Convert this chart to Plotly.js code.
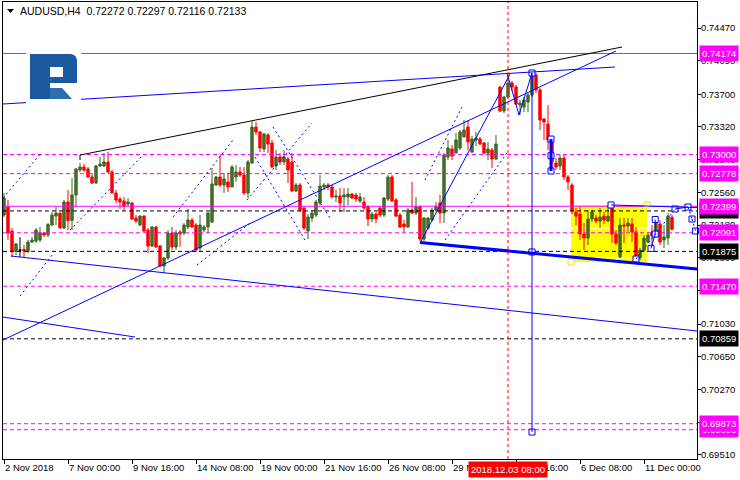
<!DOCTYPE html>
<html><head><meta charset="utf-8">
<script src="https://cdn.plot.ly/plotly-3.0.1.min.js"></script>
<style>html,body{margin:0;padding:0;background:#fff}#chart{width:740px;height:480px}</style>
</head><body><div id="chart"></div>
<script>
// ---------- DATA ----------
const symbolTitle = 'AUDUSD,H4';
const lastQuote = ['0.72272', '0.72297', '0.72116', '0.72133'];

const open = [
0.72297,0.72391,0.72111,0.71874,0.71891,0.71897,0.71874,0.71984,0.71995,0.72007,
0.72088,0.72065,0.72181,0.72285,0.72320,0.72146,0.72449,0.72233,0.72530,0.72820,
0.72855,0.72832,0.72739,0.72669,0.72867,0.72867,0.72913,0.72797,0.72553,0.72483,
0.72460,0.72425,0.72437,0.72262,0.72181,0.72285,0.72123,0.71937,0.72158,0.71937,
0.71705,0.71798,0.72088,0.71926,0.72100,0.72088,0.72158,0.72239,0.72181,0.71914,
0.72123,0.72158,0.72216,0.72646,0.72739,0.72646,0.72681,0.72623,0.72739,0.72797,
0.72762,0.72553,0.72901,0.73319,0.73262,0.73064,0.73227,0.73134,0.72867,0.72971,
0.72913,0.72948,0.72913,0.72576,0.72646,0.72379,0.72111,0.72262,0.72297,0.72437,
0.72623,0.72646,0.72623,0.72507,0.72518,0.72507,0.72507,0.72541,0.72530,0.72460,
0.72449,0.72391,0.72251,0.72309,0.72379,0.72297,0.72483,0.72739,0.72472,0.72297,
0.72193,0.72158,0.72355,0.72320,0.72391,0.72018,0.72146,0.72239,0.72355,0.72437,
0.72320,0.72971,0.73064,0.73017,0.73076,0.73204,0.73319,0.73029,0.73169,0.73180,
0.73134,0.73017,0.73052,0.72948,0.73784,0.73506,0.73668,0.73831,0.73784,0.73575,
0.73552,0.73610,0.73691,0.73924,0.73750,0.73413,0.73354,0.73169,0.72901,0.72867,
0.72959,0.72739,0.72646,0.72332,0.72309,0.72077,0.72030,0.72251,0.72262,0.72227,
0.72285,0.72227,0.72379,0.72077,0.71810,0.72181,0.72169,0.72193,0.72100,0.71798,
0.71891,0.71984,0.72100,0.72088,0.72193,0.72007,0.72030,0.72272
];
const high = [
0.72553,0.72472,0.72146,0.71972,0.72042,0.71949,0.72007,0.72042,0.72146,0.72158,
0.72100,0.72204,0.72332,0.72391,0.72320,0.72472,0.72588,0.72727,0.72843,0.72901,
0.72890,0.72855,0.72785,0.72878,0.72971,0.73017,0.73029,0.72820,0.72588,0.72507,
0.72507,0.72495,0.72449,0.72297,0.72297,0.72297,0.72146,0.72169,0.72169,0.71949,
0.71810,0.72123,0.72158,0.72123,0.72123,0.72204,0.72367,0.72262,0.72204,0.72297,
0.72181,0.72332,0.72843,0.72750,0.72994,0.72785,0.72785,0.72878,0.72878,0.72855,
0.72855,0.72936,0.73389,0.73378,0.73273,0.73250,0.73250,0.73169,0.73052,0.73017,
0.73052,0.72971,0.73017,0.72669,0.72669,0.72391,0.72309,0.72355,0.72472,0.72762,
0.72669,0.72669,0.72646,0.72588,0.72611,0.72611,0.72611,0.72553,0.72553,0.72553,
0.72507,0.72413,0.72332,0.72332,0.72391,0.72507,0.72762,0.72762,0.72495,0.72320,
0.72239,0.72379,0.72681,0.72507,0.72413,0.72274,0.72274,0.72379,0.72449,0.72530,
0.73017,0.73169,0.73111,0.73250,0.73285,0.73401,0.73401,0.73215,0.73262,0.73204,
0.73146,0.73146,0.73076,0.73227,0.73796,0.73680,0.73924,0.73854,0.73808,0.73633,
0.73668,0.73715,0.73947,0.73947,0.73773,0.73424,0.73575,0.73180,0.72959,0.72994,
0.72994,0.72762,0.72669,0.72379,0.72391,0.72204,0.72355,0.72355,0.72297,0.72379,
0.72332,0.72413,0.72413,0.72123,0.72262,0.72262,0.72262,0.72262,0.72158,0.71914,
0.72065,0.72100,0.72181,0.72262,0.72239,0.72181,0.72320,0.72297
];
const low = [
0.72274,0.72007,0.71810,0.71833,0.71810,0.71810,0.71856,0.71972,0.71972,0.71984,
0.72042,0.72042,0.72169,0.72181,0.72146,0.72134,0.72123,0.72123,0.72391,0.72797,
0.72797,0.72739,0.72658,0.72663,0.72855,0.72855,0.72785,0.72553,0.72437,0.72367,
0.72355,0.72402,0.72239,0.72204,0.72169,0.72100,0.71856,0.71926,0.71914,0.71693,
0.71623,0.71775,0.71891,0.71891,0.71926,0.72065,0.72134,0.72146,0.71868,0.71868,
0.72100,0.72088,0.72204,0.72634,0.72623,0.72553,0.72565,0.72623,0.72681,0.72739,
0.72530,0.72495,0.72890,0.73227,0.73029,0.73029,0.73017,0.72843,0.72820,0.72878,
0.72878,0.72669,0.72565,0.72565,0.72332,0.72123,0.72018,0.72216,0.72274,0.72413,
0.72588,0.72588,0.72495,0.72449,0.72332,0.72332,0.72413,0.72483,0.72449,0.72437,
0.72355,0.72169,0.72216,0.72204,0.72274,0.72274,0.72460,0.72449,0.72274,0.72146,
0.72100,0.72146,0.72309,0.72297,0.71995,0.71995,0.72123,0.72216,0.72332,0.72204,
0.72204,0.72936,0.72936,0.73017,0.73052,0.73204,0.73052,0.73017,0.73099,0.73111,
0.73006,0.72936,0.72843,0.72936,0.73494,0.73482,0.73657,0.73738,0.73575,0.73459,
0.73494,0.73494,0.73668,0.73715,0.73285,0.73169,0.73052,0.72808,0.72820,0.72820,
0.72704,0.72588,0.72309,0.72181,0.72007,0.71891,0.71949,0.72216,0.72204,0.72146,
0.72193,0.72216,0.71972,0.71949,0.71798,0.71972,0.72100,0.71984,0.71775,0.71775,
0.71868,0.71972,0.71914,0.72030,0.71949,0.71914,0.71949,0.72116
];
const close = [
0.72495,0.72088,0.71874,0.71961,0.71891,0.71879,0.71984,0.72007,0.72123,0.72088,
0.72065,0.72187,0.72297,0.72320,0.72146,0.72449,0.72233,0.72530,0.72832,0.72855,
0.72820,0.72739,0.72669,0.72867,0.72890,0.72913,0.72797,0.72553,0.72472,0.72449,
0.72402,0.72449,0.72251,0.72227,0.72285,0.72111,0.71937,0.72158,0.71926,0.71705,
0.71798,0.72088,0.71926,0.72088,0.72077,0.72181,0.72239,0.72158,0.71891,0.72181,
0.72158,0.72320,0.72658,0.72739,0.72646,0.72716,0.72623,0.72855,0.72797,0.72762,
0.72553,0.72913,0.73319,0.73262,0.73076,0.73239,0.73122,0.72855,0.72971,0.72913,
0.72971,0.72820,0.72576,0.72646,0.72355,0.72146,0.72274,0.72320,0.72449,0.72634,
0.72646,0.72623,0.72507,0.72518,0.72437,0.72530,0.72541,0.72495,0.72483,0.72507,
0.72379,0.72251,0.72309,0.72251,0.72297,0.72495,0.72739,0.72460,0.72285,0.72158,
0.72158,0.72355,0.72320,0.72391,0.72018,0.72262,0.72262,0.72355,0.72391,0.72320,
0.72994,0.73076,0.72983,0.73169,0.73262,0.73285,0.73146,0.73180,0.73192,0.73122,
0.73017,0.73064,0.72948,0.73122,0.73506,0.73668,0.73831,0.73784,0.73587,0.73598,
0.73633,0.73691,0.73935,0.73750,0.73401,0.73378,0.73169,0.72913,0.72855,0.72959,
0.72739,0.72681,0.72344,0.72285,0.72077,0.72030,0.72251,0.72332,0.72227,0.72274,
0.72239,0.72285,0.72077,0.71972,0.72181,0.72169,0.72204,0.72100,0.71798,0.71891,
0.72030,0.72065,0.72054,0.72216,0.71984,0.72042,0.72285,0.72133
];

const timeLabels = ['2 Nov 2018','7 Nov 00:00','9 Nov 16:00','14 Nov 08:00','19 Nov 00:00','21 Nov 16:00','26 Nov 08:00','29 Nov 00:00','3 Dec 16:00','6 Dec 08:00','11 Dec 00:00'];
const barsPerLabel = 16;
const priceTicks = [0.74470,0.74090,0.73700,0.73320,0.72940,0.72560,0.72180,0.71800,0.71420,0.71030,0.70650,0.70270,0.69890,0.69510];
const markedBar = 126;
const markedLabel = '2018.12.03 08:00';

// price levels (drawn objects)
const levelPrices = [0.74174,0.73000,0.72778,0.72399,0.72345,0.72091,0.71875,0.71470,0.70859,0.69873,0.69803];
const levelKinds  = ['mag','magdash','magdash','mag','blkdash','magdash','blkdash','magdash','blkdash','magdash','magdash'];
const labelOrder  = [10,9,0,1,2,4,3,5,6,7,8];

// drawn trend lines [bar0, price0, bar1, price1]
const blueLines = [
 [-0.25,0.73587,152.75,0.74017],
 [-0.25,0.70845,153,0.74203],
 [1.75,0.71821,173.25,0.70950],
 [-0.25,0.71112,32.75,0.70880],
 [104,0.71972,126.5,0.73935],
 [125.75,0.73947,128.75,0.73459],[128.75,0.73459,132,0.73947],
 [151.75,0.72414,173.25,0.72384],
 [161.75,0.71910,162.8,0.72076],[162.8,0.72076,162.8,0.72245],
 [167.75,0.72367,171,0.72390],
 [132,0.73947,132,0.69776]
];
const blueThick = [[104,0.71978,173.25,0.71670],[136.75,0.73180,136.75,0.72809]];
const blueDots = [
 [-0.25,0.72495,9.5,0.73029],
 [4,0.71356,12.25,0.71844],
 [16.5,0.72123,34.75,0.72994],
 [42.25,0.72274,57.25,0.73169],
 [48.25,0.71716,61.5,0.72204],
 [67.25,0.73320,81.5,0.72262],
 [60.75,0.72472,77,0.73366],
 [62.75,0.72971,75.25,0.72007],
 [105.25,0.72704,114.5,0.73552],
 [110.25,0.72007,125.75,0.73018],
 [158,0.71786,167.75,0.72367],
 [171,0.72390,172,0.72251],[172,0.72251,172.9,0.72112]
];
const blackLines = [[19,0.72994,154.5,0.74249],[19,0.72994,19,0.72936]];
const boxZone = [141.75,0.72414,160.75,0.71751];
const boxInner = [0.72146,0.71798];
const handleBars   = [132,132,132,136.75,136.75,136.75,151.75,158,161.75,162.8,162.8,167.75,171,172,172.9];
const handlePrices = [0.73947,0.71868,0.69776,0.73180,0.72986,0.72809,0.72414,0.71786,0.71910,0.72076,0.72245,0.72367,0.72390,0.72251,0.72112];
const zoneHandleBars = [141.75,160.75];
const zoneHandlePrices = [0.71751,0.72414];

// ---------- BUILD ----------
const FONT = '"Liberation Sans", Arial, sans-serif';
const FS = 9.5;
const XR = [-0.25, 173.25];
const bars = open.map((_, i) => i);
const isDoji = bars.map(i => open[i] === close[i]);
const pick = (arr, keep) => arr.map((v, i) => keep(i) ? v : null);

const candles = {
  type: 'candlestick', x: bars,
  open: pick(open, i => !isDoji[i]), high: pick(high, i => !isDoji[i]),
  low: pick(low, i => !isDoji[i]), close: pick(close, i => !isDoji[i]),
  increasing: {line: {color: '#3b6620', width: 1}, fillcolor: '#44742a'},
  decreasing: {line: {color: '#ff0000', width: 1}, fillcolor: '#ff0000'},
  whiskerwidth: 0, hoverinfo: 'skip'
};
const dojiIdx = bars.filter(i => isDoji[i]);
const doji = {
  type: 'candlestick', x: dojiIdx,
  open: dojiIdx.map(i => open[i]), high: dojiIdx.map(i => high[i]),
  low: dojiIdx.map(i => low[i]), close: dojiIdx.map(i => close[i]),
  increasing: {line: {color: '#000', width: 1}, fillcolor: '#000'},
  decreasing: {line: {color: '#000', width: 1}, fillcolor: '#000'},
  whiskerwidth: 0, hoverinfo: 'skip'
};
const kindStyle = {
  mag: {color: '#ff00ff', dash: 'solid'},
  magdash: {color: '#ff00ff', dash: '4px,3px'},
  blkdash: {color: '#000000', dash: '4px,3px'}
};
const levelTraces = levelPrices.map((p, k) => ({
  type: 'scatter', mode: 'lines', x: XR, y: [p, p], hoverinfo: 'skip',
  line: {color: kindStyle[levelKinds[k]].color, width: 1, dash: kindStyle[levelKinds[k]].dash}
}));
const handles = {
  type: 'scatter', mode: 'markers', x: handleBars, y: handlePrices, hoverinfo: 'skip', cliponaxis: false,
  marker: {symbol: 'square', size: 6, color: '#ffffff', line: {color: '#0000ff', width: 1}}
};
const zoneHandles = {
  type: 'scatter', mode: 'markers', x: zoneHandleBars, y: zoneHandlePrices, hoverinfo: 'skip',
  marker: {symbol: 'square', size: 6, color: '#ffffff', line: {color: '#e8e800', width: 1}}
};

const shapes = [];
shapes.push({type: 'rect', layer: 'below', xref: 'x', yref: 'y', x0: boxZone[0], y0: boxZone[1], x1: boxZone[2], y1: boxZone[3], fillcolor: '#ffff00', line: {width: 0}});
shapes.push({type: 'line', layer: 'below', xref: 'x', yref: 'y', x0: boxZone[0], x1: boxZone[2], y0: boxInner[0], y1: boxInner[0], line: {color: '#ffffff', width: 1}});
shapes.push({type: 'line', layer: 'below', xref: 'x', yref: 'y', x0: boxZone[0], x1: boxZone[2], y0: boxInner[1], y1: boxInner[1], line: {color: '#ffffff', width: 1, dash: '3px,2px'}});
const seg = (s, color, width, dash) => ({type: 'line', xref: 'x', yref: 'y', x0: s[0], y0: s[1], x1: s[2], y1: s[3], line: {color, width, dash: dash || 'solid'}});
blueDots.forEach(s => shapes.push(seg(s, '#0000ff', 1, '2px,3px')));
blackLines.forEach(s => shapes.push(seg(s, '#000000', 1)));
blueLines.forEach(s => shapes.push(seg(s, '#0000ff', 1)));
blueThick.forEach(s => shapes.push(seg(s, '#0000ff', 3)));
shapes.push({type: 'line', xref: 'x', yref: 'paper', x0: markedBar, x1: markedBar, y0: 0, y1: 1, line: {color: '#ff0000', width: 1, dash: '3px,3px'}});

// logo (decorative, layout pixels -> paper)
const L = 3, R = 697, T = 2, B = 459;
const px = x => (x - L) / (R - L), py = y => (B - y) / (B - T);
const pathOf = pts => 'M ' + pts.map(p => px(p[0]).toFixed(5) + ',' + py(p[1]).toFixed(5)).join(' L ') + ' Z';
shapes.push({type: 'rect', xref: 'paper', yref: 'paper', x0: px(26), x1: px(81), y0: py(107), y1: py(44), fillcolor: '#ffffff', line: {width: 0}});
shapes.push({type: 'path', xref: 'paper', yref: 'paper', path: pathOf([[30,54],[71,54],[74,55],[76,57],[77,60],[77,83],[50,83],[50,99],[30,99]]), fillcolor: '#1b5a9e', line: {width: 0}});
shapes.push({type: 'path', xref: 'paper', yref: 'paper', path: pathOf([[50,67],[63,67],[63,77],[50,77]]), fillcolor: '#ffffff', line: {width: 0}});
shapes.push({type: 'path', xref: 'paper', yref: 'paper', path: pathOf([[50,88],[62,88],[72,99],[50,99]]), fillcolor: '#2c6db0', line: {width: 0}});
shapes.push({type: 'path', xref: 'paper', yref: 'paper', path: pathOf([[7,9],[14,9],[10.5,13]]), fillcolor: '#000000', line: {width: 0}});

const annotations = [];
annotations.push({xref: 'paper', yref: 'paper', x: px(18), y: py(11), xanchor: 'left', yanchor: 'middle', showarrow: false,
  text: symbolTitle + '&nbsp;&nbsp;' + lastQuote.join(' '), font: {family: FONT, size: 10.5, color: '#000'}});
labelOrder.forEach(k => {
  const blk = levelKinds[k] === 'blkdash';
  annotations.push({xref: 'paper', yref: 'y', x: 1, y: levelPrices[k], xanchor: 'left', yanchor: 'middle', xshift: 2, showarrow: false,
    text: levelPrices[k].toFixed(5), bgcolor: blk ? '#000000' : '#ff00ff', borderpad: 2,
    font: {family: FONT, size: FS, color: '#ffffff'}});
});
annotations.push({xref: 'x', yref: 'paper', x: markedBar, y: 0, xanchor: 'center', yanchor: 'top', yshift: -2, showarrow: false,
  text: markedLabel, bgcolor: '#ff0000', borderpad: 2, font: {family: FONT, size: FS, color: '#ffffff'}});

const layout = {
  width: 740, height: 480,
  margin: {l: L, r: 740 - R, t: T, b: 480 - B, pad: 0},
  paper_bgcolor: '#ffffff', plot_bgcolor: '#ffffff',
  showlegend: false, hovermode: false,
  font: {family: FONT, size: FS, color: '#000'},
  boxgap: 0.4, boxgroupgap: 0,
  xaxis: {range: XR, showgrid: false, zeroline: false, showline: true, mirror: true, linecolor: '#000', linewidth: 1,
    ticks: 'outside', ticklen: 4, tickcolor: '#000', tickvals: timeLabels.map((_, k) => k * barsPerLabel), ticktext: timeLabels,
    tickangle: 0, ticklabelposition: 'outside right', automargin: false, rangeslider: {visible: false},
    tickfont: {family: FONT, size: FS, color: '#000'}},
  yaxis: {range: [0.69463, 0.74772], side: 'right', showgrid: false, zeroline: false, showline: true, mirror: true, linecolor: '#000', linewidth: 1,
    ticks: 'outside', ticklen: 3, tickcolor: '#000', tickvals: priceTicks, ticktext: priceTicks.map(v => v.toFixed(5)),
    ticklabelstandoff: -2, automargin: false, tickfont: {family: FONT, size: FS, color: '#000'}},
  shapes, annotations
};
Plotly.newPlot('chart', [candles, doji, ...levelTraces, zoneHandles, handles], layout, {staticPlot: true, displayModeBar: false});
</script></body></html>
